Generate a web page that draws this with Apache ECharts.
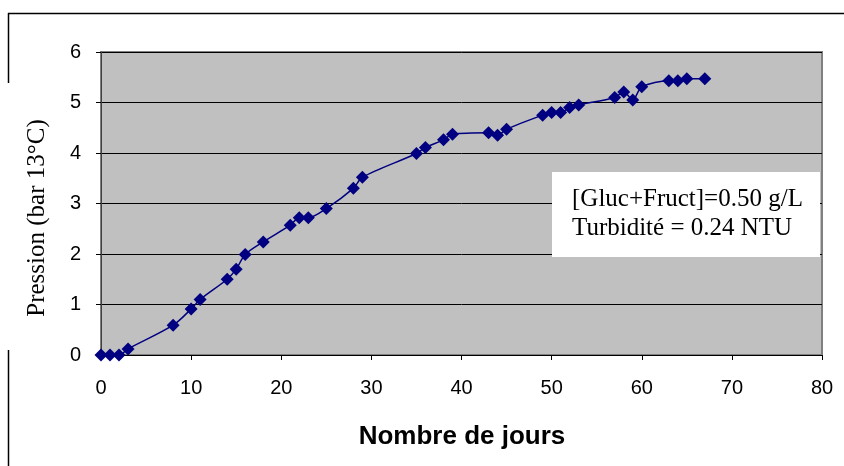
<!DOCTYPE html>
<html>
<head>
<meta charset="utf-8">
<script src="https://cdn.jsdelivr.net/npm/echarts@6/dist/echarts.min.js"></script>
<style>
html,body{margin:0;padding:0;background:#fff;}
#chart{width:844px;height:466px;}
</style>
</head>
<body>
<div id="chart"></div>
<script>
// Data
const days = [0,1,2,3,8,10,11,14,15,16,18,21,22,23,25,28,29,35,36,38,39,43,44,45,49,50,51,52,53,57,58,59,60,63,64,65,67];
const pressure = [0,0,0,0.12,0.59,0.91,1.1,1.5,1.7,1.99,2.24,2.57,2.72,2.72,2.9,3.3,3.52,3.99,4.11,4.26,4.37,4.40,4.35,4.47,4.75,4.80,4.80,4.90,4.95,5.10,5.21,5.05,5.31,5.43,5.43,5.47,5.47];
const xTicks = [0,10,20,30,40,50,60,70,80];
const yTicks = [0,1,2,3,4,5,6];
const xTitle = 'Nombre de jours';
const yTitle = 'Pression (bar 13°C)';
const noteLines = ['[Gluc+Fruct]=0.50 g/L', 'Turbidité = 0.24 NTU'];

const points = days.map((d, i) => [d, pressure[i]]);
const tickFont = '"Liberation Sans", Arial, sans-serif';

const chart = echarts.init(document.getElementById('chart'), null, {renderer: 'canvas'});
chart.setOption({
  animation: false,
  backgroundColor: '#ffffff',
  grid: {
    left: 101, right: 22, top: 52, bottom: 111,
    show: true, backgroundColor: '#c0c0c0', borderColor: '#808080', borderWidth: 2
  },
  xAxis: {
    type: 'value', min: xTicks[0], max: xTicks[xTicks.length - 1], interval: 10,
    axisLine: {show: true, onZero: false, lineStyle: {color: '#000', width: 1}},
    axisTick: {show: true, inside: false, length: 5, lineStyle: {color: '#000'}},
    splitLine: {show: false},
    axisLabel: {color: '#000', fontFamily: tickFont, fontSize: 20, margin: 23, showMinLabel: true, showMaxLabel: true}
  },
  yAxis: {
    type: 'value', min: yTicks[0], max: yTicks[yTicks.length - 1], interval: 1,
    axisLine: {show: true, lineStyle: {color: '#404040', width: 1}},
    axisTick: {show: true, inside: false, length: 5, lineStyle: {color: '#000'}},
    splitLine: {show: true, lineStyle: {color: '#000', width: 1}},
    axisLabel: {color: '#000', fontFamily: tickFont, fontSize: 20, margin: 20}
  },
  series: [{
    type: 'line',
    data: points,
    smooth: 0.3,
    symbol: 'diamond',
    symbolSize: 13,
    lineStyle: {color: '#000080', width: 1.5},
    itemStyle: {color: '#000080'},
    z: 5
  }],
  graphic: [
    {type: 'line', shape: {x1: 8, y1: 13.5, x2: 844, y2: 13.5}, style: {stroke: '#000', lineWidth: 1.5}, silent: true},
    {type: 'line', shape: {x1: 8.5, y1: 13, x2: 8.5, y2: 83}, style: {stroke: '#000', lineWidth: 1.5}, silent: true},
    {type: 'line', shape: {x1: 8.5, y1: 350, x2: 8.5, y2: 466}, style: {stroke: '#000', lineWidth: 1.5}, silent: true},
    {type: 'rect', shape: {x: 552, y: 172, width: 268, height: 85}, style: {fill: '#ffffff'}, z: 100, silent: true},
    {type: 'text', x: 572, y: 199, z: 101, style: {text: noteLines[0], font: '25px "Liberation Serif", "Times New Roman", serif', fill: '#000', verticalAlign: 'middle', align: 'left'}},
    {type: 'text', x: 572, y: 228, z: 101, style: {text: noteLines[1], font: '25px "Liberation Serif", "Times New Roman", serif', fill: '#000', verticalAlign: 'middle', align: 'left'}},
    {type: 'text', x: 462, y: 437, z: 101, style: {text: xTitle, font: 'bold 26px "Liberation Sans", Arial, sans-serif', fill: '#000', verticalAlign: 'middle', align: 'center'}},
    {type: 'text', x: 37, y: 218, rotation: Math.PI / 2, z: 101, style: {text: yTitle, font: '25px "Liberation Serif", "Times New Roman", serif', fill: '#000', verticalAlign: 'middle', align: 'center'}}
  ]
});
</script>
</body>
</html>
